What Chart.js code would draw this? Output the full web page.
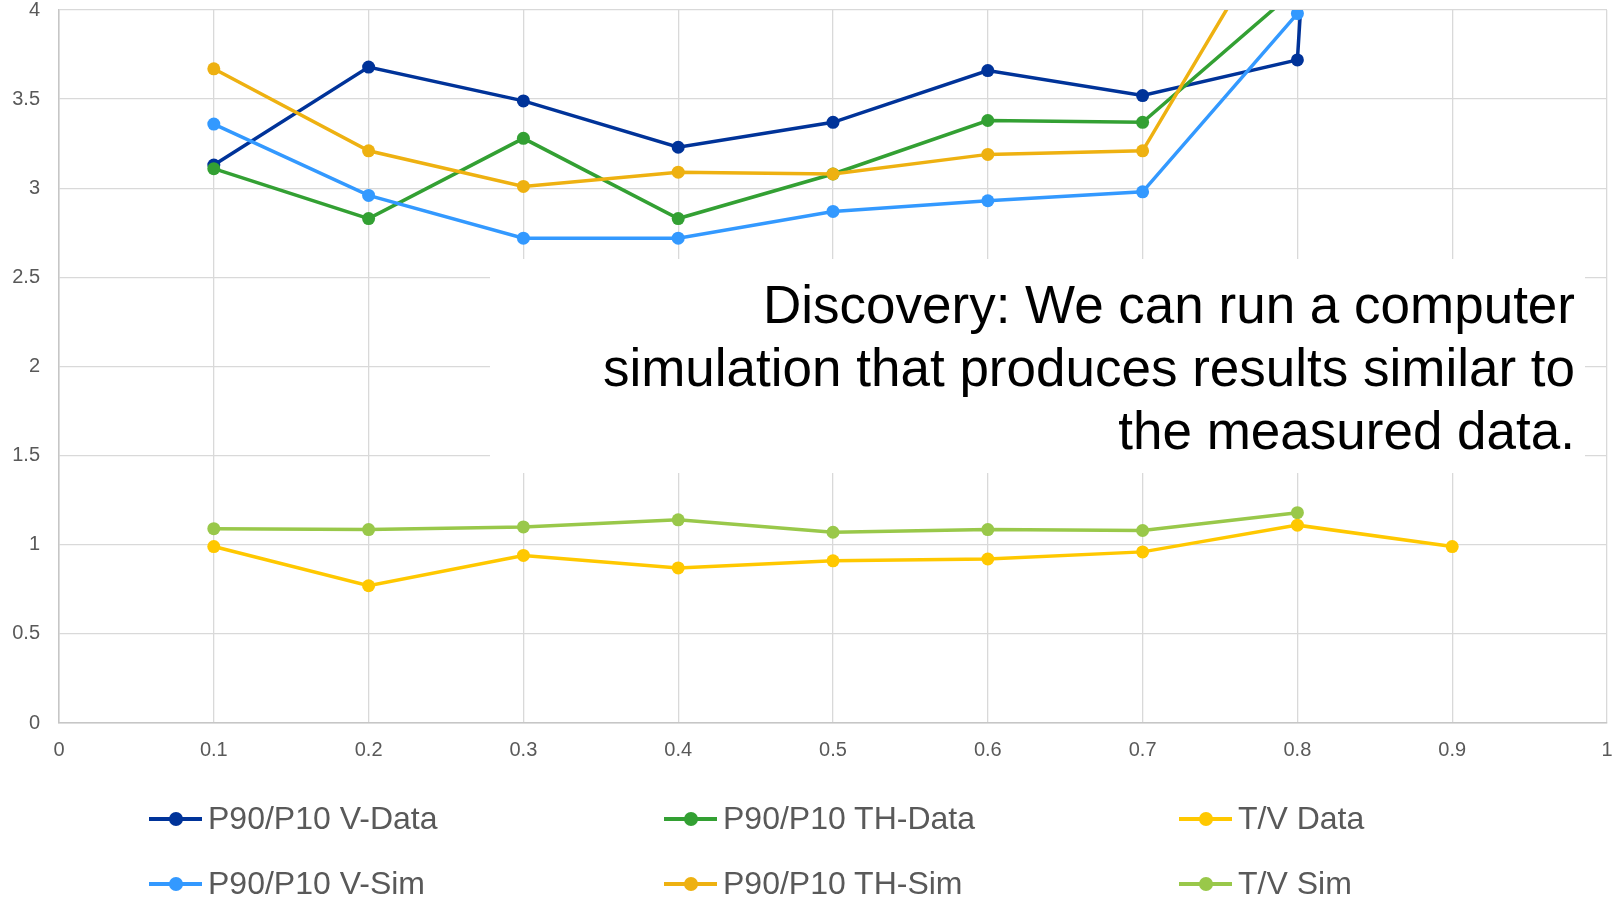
<!DOCTYPE html>
<html>
<head>
<meta charset="utf-8">
<script src="https://cdn.jsdelivr.net/npm/chart.js@4/dist/chart.umd.min.js"></script>
<style>
  body { margin: 0; background: #fff; font-family: "Liberation Sans", Arial, sans-serif; }
  #wrap { position: relative; width: 1614px; height: 899px; }
  #legend {
    position: absolute; left: 149px; top: 786px;
    display: grid; grid-auto-flow: column;
    grid-template-rows: 65px 65px; grid-template-columns: 515px 515px 515px;
  }
  .item { display: flex; align-items: center; font-size: 32px; color: #595959; white-space: nowrap; }
  .mark { position: relative; width: 53px; height: 4px; margin-right: 6px; }
  .mark i { position: absolute; left: 20px; top: -5px; width: 14px; height: 14px; border-radius: 50%; }
</style>
</head>
<body>
<div id="wrap">
  <canvas id="chart" width="1614" height="899"></canvas>
  <div id="legend"></div>
</div>
<script>
// x positions (fraction)
const xs = [0.1, 0.2, 0.3, 0.4, 0.5, 0.6, 0.7, 0.8, 0.9];

// series values (null = no point)
const vData  = [3.13, 3.68, 3.49, 3.23, 3.37, 3.66, 3.52, 3.72, 17.6];
const vSim   = [3.36, 2.96, 2.72, 2.72, 2.87, 2.93, 2.98, 3.98, null];
const thData = [3.11, 2.83, 3.28, 2.83, 3.08, 3.38, 3.37, 4.12, null];
const thSim  = [3.67, 3.21, 3.01, 3.09, 3.08, 3.19, 3.21, 4.67, null];
const tvData = [0.99, 0.77, 0.94, 0.87, 0.91, 0.92, 0.96, 1.11, 0.99];
const tvSim  = [1.09, 1.085, 1.10, 1.14, 1.07, 1.085, 1.08, 1.18, null];

const noteLines = [
    'Discovery: We can run a computer',
    'simulation that produces results similar to',
    'the measured data.'
];

function pts(vals) {
    return xs.map((x, i) => ({ x: x, y: vals[i] })).filter(p => p.y !== null);
}

function series(label, vals, color, order) {
    return {
        label: label,
        data: pts(vals),
        borderColor: color,
        backgroundColor: color,
        borderWidth: 3.5,
        pointRadius: 6.5,
        pointHoverRadius: 6.5,
        pointBorderWidth: 0,
        tension: 0,
        order: order
    };
}

// white box with the note, drawn over the grid but under the lines
const notePlugin = {
    id: 'note',
    beforeDatasetsDraw(chart) {
        const ctx = chart.ctx;
        ctx.save();
        ctx.fillStyle = '#ffffff';
        ctx.fillRect(490, 259, 1095, 214);
        ctx.fillStyle = '#000000';
        ctx.font = '53px "Liberation Sans", Arial, sans-serif';
        ctx.textAlign = 'right';
        ctx.textBaseline = 'alphabetic';
        noteLines.forEach((t, i) => ctx.fillText(t, 1575, 323 + i * 63));
        ctx.restore();
    }
};

const tickFont = { family: '"Liberation Sans", Arial, sans-serif', size: 20 };

function noPad(s) {
    s.paddingTop = 0; s.paddingBottom = 0; s.paddingLeft = 0; s.paddingRight = 0;
}

const chart = new Chart(document.getElementById('chart').getContext('2d'), {
    type: 'line',
    data: {
        datasets: [
            series('P90/P10 V-Data', vData, '#003399', 6),
            series('P90/P10 V-Sim', vSim, '#3399FF', 4),
            series('P90/P10 TH-Data', thData, '#33A033', 5),
            series('P90/P10 TH-Sim', thSim, '#EEB111', 3),
            series('T/V Data', tvData, '#FFC800', 1),
            series('T/V Sim', tvSim, '#99C84A', 2)
        ]
    },
    options: {
        responsive: false,
        animation: false,
        devicePixelRatio: 1,
        layout: { padding: { left: 0, right: 7, top: 10, bottom: 0 } },
        plugins: { legend: { display: false }, tooltip: { enabled: false } },
        scales: {
            x: {
                type: 'linear', min: 0, max: 1,
                grid: { color: '#d9d9d9', lineWidth: 1.3, drawTicks: false },
                border: { color: '#c6c6c6', width: 1.5 },
                ticks: {
                    stepSize: 0.1, padding: 15, color: '#595959', font: tickFont,
                    maxRotation: 0,
                    callback: v => String(Number(v.toFixed(1)))
                },
                afterFit: s => { s.height = 176; noPad(s); }
            },
            y: {
                min: 0, max: 4,
                grid: { color: '#d9d9d9', lineWidth: 1.3, drawTicks: false },
                border: { color: '#c6c6c6', width: 1.5 },
                ticks: {
                    stepSize: 0.5, padding: 19, color: '#595959', font: tickFont,
                    callback: v => String(Number(v.toFixed(1)))
                },
                afterFit: s => { s.width = 59; noPad(s); }
            }
        }
    },
    plugins: [notePlugin]
});

// legend laid out column by column like the original
const legend = document.getElementById('legend');
chart.data.datasets.forEach(ds => {
    const item = document.createElement('div');
    item.className = 'item';
    const mark = document.createElement('span');
    mark.className = 'mark';
    mark.style.background = ds.borderColor;
    const dot = document.createElement('i');
    dot.style.background = ds.borderColor;
    mark.appendChild(dot);
    item.appendChild(mark);
    item.appendChild(document.createTextNode(ds.label));
    legend.appendChild(item);
});
</script>
</body>
</html>
